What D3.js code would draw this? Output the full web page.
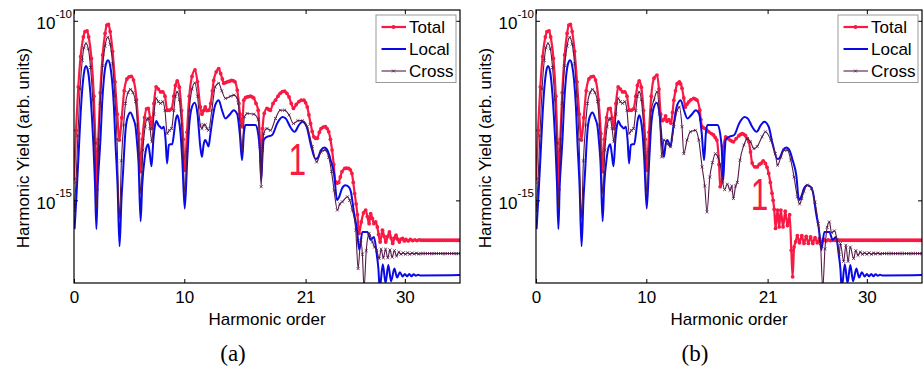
<!DOCTYPE html>
<html>
<head>
<meta charset="utf-8">
<script src="https://cdn.jsdelivr.net/npm/d3@7"></script>
<style>
  body { margin: 0; background: #fff; }
  svg text { font-family: "Liberation Sans", Arial, Helvetica, sans-serif; }
</style>
</head>
<body>
<svg id="chart" width="924" height="369"></svg>
<script>
// harmonic order vs log10(yield); pairs are [order, exponent]
const xTicks = [0, 10, 21, 30];
const yTicks = [1e-10, 1e-15];
const seriesNames = ["Total", "Local", "Cross"];
const captions = ["(a)", "(b)"];
const noteText = "1";
const notes = [[20.25, -14.3], [20.27, -15.28]];

// local contribution (same in both panels)
const localYield = [
  [0.05,-15.8],[0.2,-15.0],[0.42,-13.7],[0.6,-12.6],[0.75,-11.9],[0.92,-11.42],[1.09,-11.26],[1.28,-11.42],[1.48,-12.0],[1.63,-12.7],[1.76,-13.45],[1.9,-14.5],[2.03,-15.8],[2.15,-14.6],[2.28,-13.9],[2.4,-13.3],[2.55,-12.3],[2.7,-11.65],[2.9,-11.2],[3.09,-11.1],[3.28,-11.25],[3.45,-11.65],[3.62,-12.4],[3.76,-13.4],[3.95,-14.6],[4.13,-16.28],[4.3,-15.0],[4.45,-14.2],[4.67,-13.05],[4.9,-12.65],[5.12,-12.55],[5.35,-12.7],[5.58,-12.95],[5.72,-13.4],[5.85,-13.95],[6.04,-15.58],[6.18,-14.6],[6.42,-13.8],[6.6,-13.5],[6.73,-13.44],[6.87,-13.7],[7.03,-14.05],[7.2,-13.3],[7.35,-12.9],[7.48,-12.79],[7.65,-12.9],[7.8,-12.95],[7.95,-13.0],[8.15,-12.95],[8.3,-13.3],[8.44,-13.97],[8.6,-13.46],[8.75,-13.44],[8.9,-13.44],[9.06,-13.15],[9.2,-12.8],[9.36,-12.63],[9.5,-12.75],[9.65,-13.1],[9.82,-13.88],[10.04,-15.23],[10.27,-13.85],[10.45,-12.9],[10.65,-12.45],[10.94,-12.28],[11.2,-12.6],[11.45,-13.5],[11.6,-13.79],[11.75,-13.45],[11.9,-13.32],[12.05,-13.4],[12.2,-13.5],[12.35,-13.2],[12.5,-12.86],[12.8,-12.35],[13.12,-12.21],[13.42,-12.49],[13.73,-12.72],[14.0,-12.65],[14.2,-12.58],[14.48,-12.49],[14.8,-12.6],[15.03,-13.14],[15.24,-13.88],[15.4,-13.14],[15.55,-12.9],[16.0,-12.9],[16.45,-12.9],[16.7,-13.14],[16.85,-13.6],[16.97,-14.44],[17.1,-13.7],[17.2,-13.32],[17.5,-13.23],[17.97,-13.18],[18.42,-12.86],[18.9,-12.68],[19.2,-12.72],[19.6,-12.95],[20.0,-13.09],[20.4,-12.9],[20.7,-12.81],[21.1,-12.95],[21.45,-13.42],[21.9,-13.85],[22.1,-13.82],[22.4,-13.6],[22.7,-13.53],[23.0,-13.62],[23.27,-13.88],[23.6,-14.3],[23.85,-15.0],[24.05,-14.9],[24.3,-14.67],[24.6,-14.58],[24.9,-14.62],[25.1,-14.75],[25.4,-15.37],[25.65,-15.8],[25.87,-16.38],[26.15,-15.88],[26.6,-15.88],[26.9,-16.1],[27.2,-16.02],[27.45,-16.5],[27.6,-16.9],[27.72,-17.45],[28.0,-16.78],[28.25,-17.3],[28.5,-16.8],[28.75,-17.25],[29.05,-16.9],[29.3,-17.15],[29.55,-17.0],[29.8,-17.12],[30.0,-17.05],[30.2,-17.11],[30.4,-17.05],[30.6,-17.11],[30.8,-17.06],[31.0,-17.1],[31.2,-17.07],[31.4,-17.09],[35.0,-17.08]
];

// total and cross below order ~10.5 are the same in both panels
const totalLow = [
  [0.0,-14.4],[0.18,-13.05],[0.39,-11.84],[0.6,-11.0],[0.85,-10.45],[1.0,-10.3],[1.18,-10.28],[1.33,-10.45],[1.58,-11.05],[1.8,-12.1],[1.95,-13.4],[2.06,-14.7],[2.2,-13.3],[2.38,-12.0],[2.6,-10.95],[2.82,-10.35],[2.98,-10.12],[3.12,-10.1],[3.28,-10.3],[3.5,-10.85],[3.72,-11.7],[3.92,-12.6],[4.12,-13.32],[4.33,-12.7],[4.55,-11.95],[4.8,-11.62],[5.0,-11.56],[5.2,-11.55],[5.4,-11.65],[5.67,-12.2],[5.88,-13.14],[6.04,-14.2],[6.2,-13.3],[6.4,-12.7],[6.58,-12.45],[6.73,-12.44],[6.9,-12.7],[7.06,-13.0],[7.25,-12.3],[7.45,-11.84],[7.65,-11.9],[7.85,-11.98],[8.05,-11.98],[8.25,-12.1],[8.45,-12.49],[8.65,-12.49],[8.85,-12.45],[9.05,-12.1],[9.2,-11.8],[9.36,-11.67],[9.55,-11.85],[9.75,-12.5],[9.9,-13.3],[10.05,-14.16],[10.25,-13.1],[10.45,-12.1]
];
const crossLow = [
  [0.0,-15.3],[0.18,-14.5],[0.35,-13.2],[0.55,-11.9],[0.75,-11.1],[0.9,-10.75],[1.09,-10.63],[1.3,-10.78],[1.5,-11.3],[1.7,-12.2],[1.88,-13.4],[2.05,-15.2],[2.2,-13.6],[2.38,-12.3],[2.6,-11.25],[2.82,-10.7],[3.05,-10.46],[3.28,-10.65],[3.5,-11.2],[3.7,-12.1],[3.9,-13.3],[4.12,-15.5],[4.3,-13.9],[4.5,-12.9],[4.67,-12.3],[4.9,-12.0],[5.12,-11.91],[5.35,-12.0],[5.58,-12.25],[5.75,-12.9],[5.88,-13.7],[6.05,-14.8],[6.25,-13.6],[6.45,-12.95],[6.6,-12.75],[6.73,-12.72],[6.9,-13.0],[7.06,-13.37],[7.25,-12.6],[7.45,-12.16],[7.65,-12.25],[7.85,-12.3],[8.05,-12.25],[8.25,-12.5],[8.45,-13.14],[8.65,-13.05],[8.85,-13.0],[9.05,-12.5],[9.2,-12.1],[9.36,-11.98],[9.55,-12.2],[9.75,-12.9],[9.9,-13.8],[10.05,-14.81],[10.25,-13.6],[10.45,-12.5]
];

// panel (a), above order 10.5
const totalHighA = [
  [10.7,-11.55],[10.97,-11.37],[11.2,-11.7],[11.45,-12.4],[11.6,-12.6],[11.75,-12.5],[11.9,-12.4],[12.05,-12.5],[12.2,-12.49],[12.4,-12.3],[12.55,-11.95],[12.67,-11.66],[12.9,-11.42],[13.12,-11.33],[13.3,-11.47],[13.45,-11.62],[13.58,-11.74],[13.75,-11.72],[13.9,-11.7],[14.1,-11.68],[14.3,-11.66],[14.45,-11.67],[14.6,-11.7],[14.8,-11.93],[14.95,-12.3],[15.05,-12.6],[15.24,-12.95],[15.4,-12.21],[15.55,-12.14],[15.7,-12.12],[15.85,-12.11],[16.0,-12.1],[16.15,-12.12],[16.3,-12.15],[16.5,-12.3],[16.7,-12.49],[16.88,-13.4],[16.97,-13.9],[17.1,-13.0],[17.25,-12.58],[17.5,-12.44],[17.65,-12.47],[17.8,-12.49],[18.05,-12.3],[18.27,-12.21],[18.5,-12.1],[18.7,-12.02],[18.9,-11.97],[19.1,-11.96],[19.3,-12.02],[19.5,-12.12],[19.7,-12.3],[19.9,-12.44],[20.15,-12.33],[20.4,-12.25],[20.6,-12.21],[20.85,-12.21],[21.0,-12.28],[21.15,-12.4],[21.3,-12.62],[21.45,-12.86],[21.6,-13.08],[21.75,-13.23],[21.9,-13.27],[22.06,-13.27],[22.25,-13.1],[22.4,-13.0],[22.6,-12.96],[22.8,-12.95],[22.95,-13.0],[23.1,-13.09],[23.25,-13.3],[23.4,-13.6],[23.55,-14.0],[23.7,-14.48],[23.85,-14.52],[24.0,-14.5],[24.15,-14.35],[24.3,-14.2],[24.55,-14.11],[24.7,-14.1],[24.9,-14.11],[25.05,-14.15],[25.2,-14.25],[25.32,-14.5],[25.45,-14.81],[25.58,-15.1],[25.7,-15.4],[25.85,-15.92],[26.05,-15.6],[26.25,-15.35],[26.45,-15.27],[26.6,-15.45],[26.76,-15.65],[26.9,-15.37],[27.05,-15.5],[27.2,-15.65],[27.35,-15.6],[27.5,-15.74],[27.62,-15.95],[27.76,-16.16],[27.97,-15.83],[28.12,-16.0],[28.27,-16.16],[28.45,-16.0],[28.6,-15.88],[28.75,-16.05],[28.9,-16.2],[29.05,-16.05],[29.2,-15.97],[29.35,-16.08],[29.5,-16.16],[29.65,-16.08],[29.8,-16.06],[29.95,-16.13],[30.1,-16.09],[30.3,-16.13],[30.5,-16.09],[30.7,-16.12],[30.9,-16.1],[31.1,-16.12],[31.3,-16.1],[31.5,-16.11],[31.7,-16.11],[31.9,-16.11],[32.1,-16.11],[32.3,-16.11],[32.5,-16.11],[32.7,-16.11],[32.9,-16.11],[33.1,-16.11],[33.3,-16.11],[33.5,-16.11],[33.7,-16.11],[33.9,-16.11],[34.1,-16.11],[34.3,-16.11],[34.5,-16.11],[34.7,-16.11],[34.9,-16.11],[35.1,-16.11]
];
const crossHighA = [
  [10.7,-11.9],[10.95,-11.73],[11.2,-12.1],[11.45,-12.9],[11.6,-13.0],[11.75,-12.9],[11.9,-12.9],[12.05,-13.0],[12.2,-13.05],[12.5,-12.49],[12.8,-11.84],[13.12,-11.74],[13.4,-11.95],[13.73,-12.16],[14.2,-12.1],[14.5,-12.07],[14.85,-12.2],[15.05,-12.9],[15.24,-13.6],[15.45,-12.67],[15.7,-12.58],[16.3,-12.6],[16.7,-12.75],[16.85,-13.5],[16.97,-14.62],[17.1,-13.6],[17.2,-13.14],[17.5,-13.0],[17.82,-13.05],[18.27,-12.72],[18.7,-12.49],[19.1,-12.49],[19.5,-12.62],[19.9,-12.86],[20.3,-12.78],[20.7,-12.78],[21.15,-12.95],[21.6,-13.5],[22.0,-13.93],[22.4,-13.65],[22.75,-13.6],[23.1,-13.8],[23.35,-14.2],[23.58,-14.72],[23.88,-15.27],[24.1,-15.1],[24.33,-15.04],[24.79,-14.9],[25.0,-15.0],[25.24,-15.27],[25.55,-15.83],[25.76,-16.9],[26.0,-16.11],[26.15,-16.5],[26.3,-17.45],[26.5,-16.4],[26.76,-15.92],[27.06,-16.16],[27.25,-16.3],[27.45,-16.39],[27.67,-16.62],[27.85,-16.36],[28.05,-16.6],[28.25,-16.36],[28.45,-16.6],[28.65,-16.38],[28.85,-16.58],[29.05,-16.4],[29.25,-16.55],[29.45,-16.44],[29.65,-16.5],[29.85,-16.46],[30.05,-16.5],[30.25,-16.46],[30.45,-16.5],[30.65,-16.47],[30.85,-16.49],[31.05,-16.47],[31.25,-16.49],[31.45,-16.48],[31.65,-16.48],[31.85,-16.48],[32.05,-16.48],[32.25,-16.48],[32.45,-16.48],[32.65,-16.48],[32.85,-16.48],[33.05,-16.48],[33.25,-16.48],[33.45,-16.48],[33.65,-16.48],[33.85,-16.48],[34.05,-16.48],[34.25,-16.48],[34.45,-16.48],[34.65,-16.48],[34.85,-16.48],[35.05,-16.48]
];

// panel (b), above order 10.5
const totalHighB = [
  [10.7,-11.6],[10.97,-11.51],[11.15,-11.9],[11.3,-12.6],[11.45,-12.78],[11.6,-12.75],[11.75,-12.65],[11.88,-12.8],[12.05,-12.75],[12.24,-12.85],[12.38,-12.55],[12.5,-12.21],[12.65,-11.95],[12.8,-11.75],[13.0,-11.7],[13.12,-11.76],[13.24,-11.88],[13.4,-12.15],[13.55,-12.4],[13.7,-12.32],[13.85,-12.26],[14.05,-12.2],[14.3,-12.16],[14.45,-12.18],[14.6,-12.21],[14.85,-12.49],[14.95,-12.75],[15.06,-12.95],[15.2,-12.98],[15.36,-13.0],[15.5,-13.05],[15.67,-13.09],[15.9,-13.14],[16.1,-13.18],[16.25,-13.25],[16.4,-13.32],[16.6,-14.0],[16.7,-14.62],[16.85,-14.5],[17.0,-13.5],[17.2,-13.23],[17.4,-13.28],[17.6,-13.32],[17.75,-13.35],[17.9,-13.37],[18.15,-13.28],[18.4,-13.2],[18.55,-13.16],[18.7,-13.14],[18.85,-13.16],[19.0,-13.2],[19.15,-13.28],[19.3,-13.37],[19.45,-13.65],[19.6,-13.96],[19.85,-14.07],[20.06,-14.07],[20.25,-14.0],[20.4,-13.97],[20.6,-13.9],[20.8,-13.97],[20.95,-14.08],[21.1,-14.25],[21.25,-14.5],[21.4,-14.8],[21.5,-15.0],[21.6,-15.25],[21.72,-15.78],[21.9,-15.27],[22.05,-15.74],[22.2,-15.27],[22.4,-15.74],[22.6,-15.3],[22.8,-15.7],[23.0,-15.4],[23.15,-16.39],[23.27,-17.13],[23.4,-16.3],[23.55,-16.15],[23.7,-15.98],[23.9,-16.18],[24.1,-15.98],[24.3,-16.2],[24.5,-16.0],[24.7,-16.2],[24.9,-16.02],[25.1,-16.2],[25.3,-16.04],[25.5,-16.18],[25.7,-16.06],[25.9,-16.15],[26.1,-16.09],[26.3,-16.13],[26.5,-16.1],[26.7,-16.12],[26.9,-16.11],[27.1,-16.11],[27.3,-16.11],[27.5,-16.11],[27.7,-16.11],[27.9,-16.11],[28.1,-16.11],[28.3,-16.11],[28.5,-16.11],[28.7,-16.11],[28.9,-16.11],[29.1,-16.11],[29.3,-16.11],[29.5,-16.11],[29.7,-16.11],[29.9,-16.11],[30.1,-16.11],[30.3,-16.11],[30.5,-16.11],[30.7,-16.11],[30.9,-16.11],[31.1,-16.11],[31.3,-16.11],[31.5,-16.11],[31.7,-16.11],[31.9,-16.11],[32.1,-16.11],[32.3,-16.11],[32.5,-16.11],[32.7,-16.11],[32.9,-16.11],[33.1,-16.11],[33.3,-16.11],[33.5,-16.11],[33.7,-16.11],[33.9,-16.11],[34.1,-16.11],[34.3,-16.11],[34.5,-16.11],[34.7,-16.11],[34.9,-16.11],[35.1,-16.11]
];
const crossHighB = [
  [10.7,-12.2],[10.97,-11.98],[11.2,-12.6],[11.4,-13.79],[11.6,-13.32],[11.88,-13.42],[12.2,-13.51],[12.5,-12.95],[12.8,-12.49],[13.0,-12.4],[13.24,-12.95],[13.4,-13.7],[13.7,-13.32],[14.0,-13.09],[14.45,-13.05],[14.76,-13.32],[15.06,-14.07],[15.3,-14.6],[15.5,-15.32],[15.76,-14.35],[16.0,-13.95],[16.27,-13.7],[16.5,-13.79],[16.7,-14.0],[16.9,-14.44],[17.1,-14.7],[17.35,-14.55],[17.6,-14.72],[17.75,-14.6],[17.9,-14.95],[18.1,-14.6],[18.25,-14.5],[18.5,-13.88],[18.85,-13.46],[19.15,-13.28],[19.45,-13.37],[19.76,-13.56],[20.06,-13.5],[20.5,-13.23],[20.8,-13.09],[21.3,-13.33],[21.7,-13.7],[21.9,-14.02],[22.2,-13.8],[22.5,-13.6],[22.8,-13.6],[23.1,-13.88],[23.4,-14.35],[23.7,-14.9],[23.9,-15.1],[24.1,-14.95],[24.3,-14.75],[24.6,-14.58],[24.97,-14.67],[25.3,-15.05],[25.6,-15.65],[25.8,-16.2],[26.0,-17.45],[26.2,-16.35],[26.4,-15.75],[26.6,-15.6],[26.8,-15.9],[27.06,-15.85],[27.3,-16.1],[27.5,-16.5],[27.6,-16.2],[27.9,-16.7],[28.1,-16.25],[28.3,-16.7],[28.5,-16.3],[28.8,-16.62],[29.0,-16.4],[29.2,-16.53],[29.4,-16.44],[29.6,-16.5],[29.8,-16.46],[30.0,-16.5],[30.2,-16.46],[30.4,-16.5],[30.6,-16.47],[30.8,-16.49],[31.0,-16.47],[31.2,-16.49],[31.4,-16.48],[31.6,-16.48],[31.8,-16.48],[32.0,-16.48],[32.2,-16.48],[32.4,-16.48],[32.6,-16.48],[32.8,-16.48],[33.0,-16.48],[33.2,-16.48],[33.4,-16.48],[33.6,-16.48],[33.8,-16.48],[34.0,-16.48],[34.2,-16.48],[34.4,-16.48],[34.6,-16.48],[34.8,-16.48],[35.0,-16.48]
];

const colors = { total: "#f81a44", local: "#0a0ae6", cross: "#561a48" };

const svg = d3.select("#chart");
const plot = { left: 74, right: 460, top: 10, bottom: 283 };
const x = d3.scaleLinear().domain([0, 35]).range([plot.left, plot.right]);
const y = d3.scaleLog().domain([5e-18, 2e-10]).range([plot.bottom, plot.top]);

const line = d3.line()
  .x(d => x(d[0]))
  .y(d => y(Math.pow(10, d[1])))
  .curve(d3.curveMonotoneX);

function drawPanel(offset, totalData, crossData, caption, note, id) {
  const g = svg.append("g").attr("transform", `translate(${offset},0)`);

  g.append("clipPath").attr("id", "clip" + id)
    .append("rect")
    .attr("x", plot.left).attr("y", plot.top)
    .attr("width", plot.right - plot.left).attr("height", plot.bottom - plot.top);

  const area = g.append("g").attr("clip-path", `url(#clip${id})`);

  area.append("path").datum(totalData)
    .attr("d", line).attr("fill", "none")
    .attr("stroke", colors.total).attr("stroke-width", 2.2);
  area.selectAll("circle.tot").data(totalData).join("circle")
    .attr("class", "tot")
    .attr("cx", d => x(d[0])).attr("cy", d => y(Math.pow(10, d[1])))
    .attr("r", 1.9).attr("fill", colors.total);

  area.append("path").datum(localYield)
    .attr("d", line).attr("fill", "none")
    .attr("stroke", colors.local).attr("stroke-width", 2);

  area.append("path").datum(crossData)
    .attr("d", line).attr("fill", "none")
    .attr("stroke", colors.cross).attr("stroke-width", 1.1);
  area.selectAll("path.xm").data(crossData).join("path")
    .attr("class", "xm")
    .attr("d", d3.symbol(d3.symbolTimes, 7))
    .attr("transform", d => `translate(${x(d[0])},${y(Math.pow(10, d[1]))})`)
    .attr("fill", "none").attr("stroke", colors.cross).attr("stroke-width", 0.8);

  // axes (ticks inward)
  const bottom = g.append("g").attr("transform", `translate(0,${plot.bottom})`)
    .call(d3.axisBottom(x).tickValues(xTicks).tickSizeInner(-4).tickSizeOuter(0).tickPadding(8));
  const top = g.append("g").attr("transform", `translate(0,${plot.top})`)
    .call(d3.axisTop(x).tickValues(xTicks).tickSizeInner(-4).tickSizeOuter(0).tickFormat(""));
  const left = g.append("g").attr("transform", `translate(${plot.left},0)`)
    .call(d3.axisLeft(y).tickValues(yTicks).tickSizeInner(-4).tickSizeOuter(0).tickPadding(2));
  const right = g.append("g").attr("transform", `translate(${plot.right},0)`)
    .call(d3.axisRight(y).tickValues(yTicks).tickSizeInner(-4).tickSizeOuter(0).tickFormat(""));

  [bottom, top, left, right].forEach(a => {
    a.select(".domain").remove();
    a.selectAll(".tick line").attr("stroke", "#000").attr("stroke-width", 1);
  });
  bottom.selectAll(".tick text")
    .attr("font-size", 17).attr("fill", "#000")
    .style("font-family", '"Liberation Sans", Arial, sans-serif');
  left.selectAll(".tick text").each(function (d) {
    const t = d3.select(this);
    t.text("").attr("dy", null).attr("y", 8).attr("fill", "#000")
      .style("font-family", '"Liberation Sans", Arial, sans-serif');
    t.append("tspan").attr("font-size", 17).text("10");
    t.append("tspan").attr("font-size", 11.5).attr("dy", -11.5).text(Math.round(Math.log10(d)));
  });

  g.append("rect")
    .attr("x", plot.left).attr("y", plot.top)
    .attr("width", plot.right - plot.left).attr("height", plot.bottom - plot.top)
    .attr("fill", "none").attr("stroke", "#000").attr("stroke-width", 1.2);

  // axis titles
  g.append("text")
    .attr("x", (plot.left + plot.right) / 2).attr("y", 325)
    .attr("text-anchor", "middle").attr("font-size", 17)
    .text("Harmonic order");
  g.append("text")
    .attr("transform", "translate(28.5,148) rotate(-90)")
    .attr("text-anchor", "middle").attr("font-size", 17)
    .text("Harmonic Yield (arb. units)");

  // caption
  g.append("text")
    .attr("x", 233).attr("y", 361)
    .attr("text-anchor", "middle").attr("font-size", 23)
    .style("font-family", '"Liberation Serif", "DejaVu Serif", serif')
    .text(caption);

  // annotation: tall, thin "1"
  g.append("text")
    .attr("transform", `translate(${x(note[0])},${y(Math.pow(10, note[1]))}) scale(0.72,1)`)
    .attr("text-anchor", "middle").attr("font-size", 44)
    .attr("fill", colors.total)
    .text(noteText);

  // legend
  const lg = g.append("g").attr("transform", "translate(376,15)");
  lg.append("rect").attr("width", 80).attr("height", 67.5)
    .attr("fill", "#fff").attr("stroke", "#999").attr("stroke-width", 1);
  const rows = lg.selectAll("g.row").data(seriesNames).join("g")
    .attr("class", "row")
    .attr("transform", (d, i) => `translate(0,${12 + i * 22})`);
  rows.append("line").attr("x1", 5.5).attr("x2", 30).attr("y1", 0).attr("y2", 0)
    .attr("stroke", d => colors[d.toLowerCase()])
    .attr("stroke-width", d => d === "Total" ? 2.2 : d === "Local" ? 2 : 1.1);
  rows.filter(d => d === "Total").append("circle")
    .attr("cx", 17.5).attr("cy", 0).attr("r", 1.9).attr("fill", colors.total);
  rows.filter(d => d === "Cross").append("path")
    .attr("d", d3.symbol(d3.symbolTimes, 7)).attr("transform", "translate(17.5,0)")
    .attr("fill", "none").attr("stroke", colors.cross).attr("stroke-width", 0.8);
  rows.append("text").attr("x", 33).attr("y", 6)
    .attr("font-size", 17).text(d => d);
}

drawPanel(0, totalLow.concat(totalHighA), crossLow.concat(crossHighA), captions[0], notes[0], "a");
drawPanel(462, totalLow.concat(totalHighB), crossLow.concat(crossHighB), captions[1], notes[1], "b");
</script>
</body>
</html>
